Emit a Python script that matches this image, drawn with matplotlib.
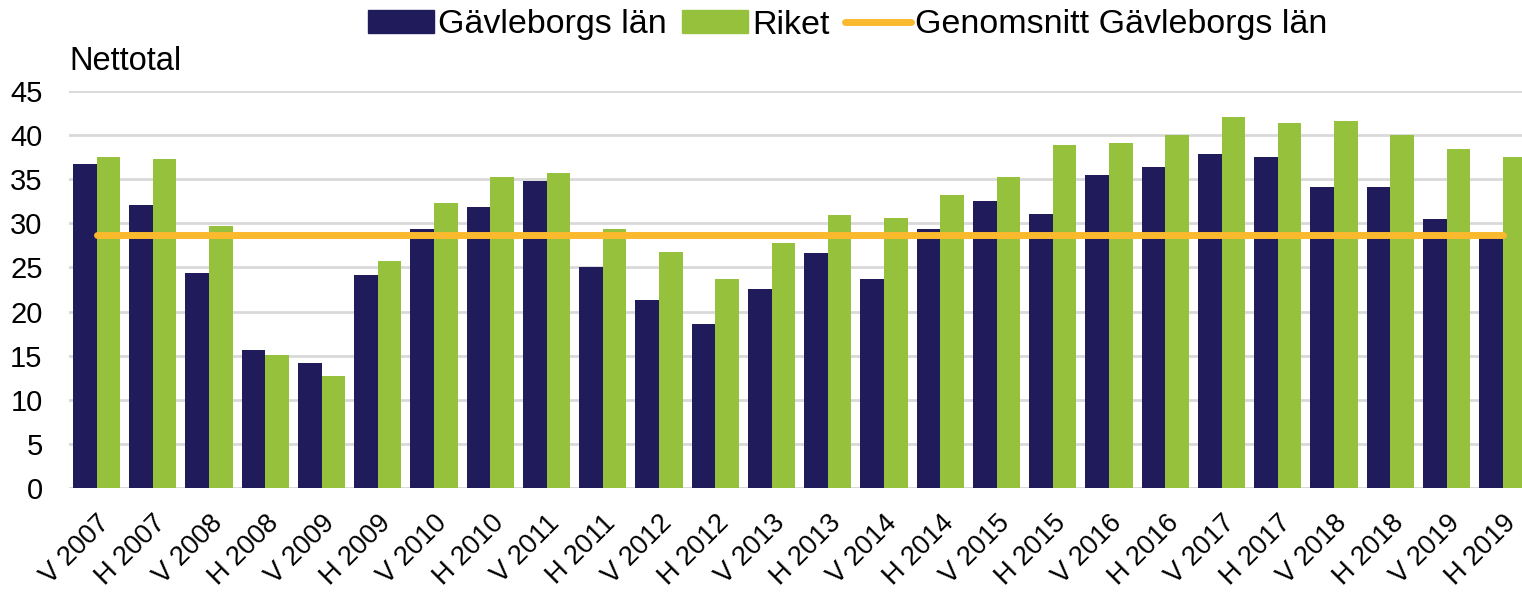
import numpy as np
import matplotlib
matplotlib.use('Agg')
import matplotlib.pyplot as plt
from matplotlib.patches import Patch
from matplotlib.lines import Line2D

plt.rcParams['font.family'] = ['Liberation Sans', 'DejaVu Sans']

# ---------------------------------------------------------------------------
# Data
# ---------------------------------------------------------------------------
periods = ['V 2007', 'H 2007', 'V 2008', 'H 2008', 'V 2009', 'H 2009',
           'V 2010', 'H 2010', 'V 2011', 'H 2011', 'V 2012', 'H 2012',
           'V 2013', 'H 2013', 'V 2014', 'H 2014', 'V 2015', 'H 2015',
           'V 2016', 'H 2016', 'V 2017', 'H 2017', 'V 2018', 'H 2018',
           'V 2019', 'H 2019']
gavleborg = [36.7, 32.1, 24.4, 15.6, 14.2, 24.2,
             29.4, 31.8, 34.8, 25.1, 21.3, 18.6,
             22.6, 26.6, 23.7, 29.4, 32.5, 31.1,
             35.5, 36.4, 37.9, 37.5, 34.1, 34.1,
             30.5, 28.5]
riket = [37.5, 37.3, 29.7, 15.1, 12.7, 25.7,
         32.3, 35.3, 35.7, 29.4, 26.7, 23.7,
         27.8, 30.9, 30.6, 33.2, 35.3, 38.9,
         39.1, 40.0, 42.0, 41.4, 41.6, 40.0,
         38.4, 37.5]
snitt_gavleborg = 28.7

navy = '#201C5B'
green = '#95C13D'
orange = '#FBB92E'
grid_col = '#D9D9D9'

# ---------------------------------------------------------------------------
# Plot
# ---------------------------------------------------------------------------
fig = plt.figure(figsize=(15.22, 5.93), dpi=100)
ax = fig.add_axes([69 / 1522, 105 / 593, 1 - 69 / 1522, 397 / 593])

x = np.arange(len(periods))
w = 0.42
ax.bar(x - w / 2, gavleborg, width=w, color=navy, zorder=2)
ax.bar(x + w / 2, riket, width=w, color=green, zorder=2)
ax.plot([x[0], x[-1]], [snitt_gavleborg] * 2, color=orange, lw=5,
        solid_capstyle='round', zorder=3)

ax.set_ylim(0, 45)
ax.set_xlim(-0.49, len(periods) - 1 + 0.34)
ax.set_yticks(range(0, 46, 5))
ax.yaxis.grid(True, color=grid_col, lw=2, zorder=0)
ax.set_axisbelow(True)
for s in ax.spines.values():
    s.set_visible(False)
ax.axhline(0, color=grid_col, lw=2, zorder=1)

ax.tick_params(axis='both', length=0)
ax.tick_params(axis='y', pad=19, labelsize=21)
ax.set_xticks(x)
ax.set_xticklabels(periods, rotation=45, ha='right', va='top',
                   rotation_mode='anchor')
ax.tick_params(axis='x', pad=16, labelsize=19.5)

fig.text(69 / 1522, 1 - 70 / 593, 'Nettotal', fontsize=23.5, ha='left',
         va='baseline')

handles = [Patch(color=navy), Patch(color=green),
           Line2D([0], [0], color=orange, lw=5, solid_capstyle='round')]
labels = ['Gävleborgs län', 'Riket', 'Genomsnitt Gävleborgs län']
fig.legend(handles, labels, loc='center', bbox_to_anchor=(848 / 1522, 1 - 25 / 593),
           ncol=3, frameon=False, fontsize=24.5, handlelength=1.94,
           handleheight=0.62, handletextpad=0.12, columnspacing=0.45,
           borderaxespad=0)

fig.savefig('out.png', dpi=100)
